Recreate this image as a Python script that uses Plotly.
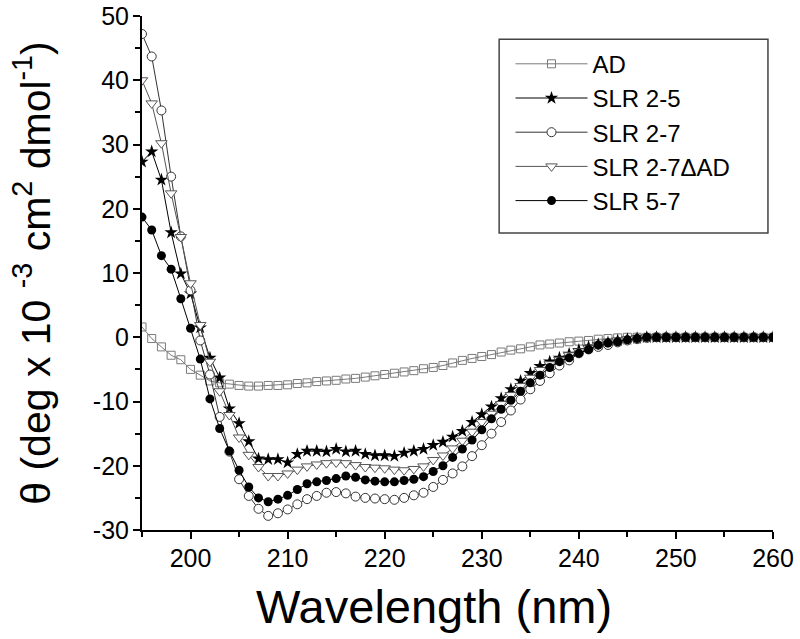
import plotly.graph_objects as go

# wavelength grid, 1 nm steps
wavelength = list(range(195, 261))

# mean residue ellipticity, deg x 10^-3 cm2 dmol-1
ad = [1.6, -0.2, -1.5, -2.8, -3.5, -5.0, -5.9, -6.8, -7.1, -7.3,
      -7.5, -7.6, -7.6, -7.5, -7.5, -7.4, -7.2, -7.1, -6.9, -6.8,
      -6.7, -6.5, -6.4, -6.2, -6.0, -5.8, -5.6, -5.4, -5.2, -4.9,
      -4.7, -4.4, -4.0, -3.6, -3.3, -3.0, -2.7, -2.3, -2.0, -1.8,
      -1.5, -1.2, -1.05, -0.9, -0.7, -0.6, -0.5, -0.3, -0.2, -0.1,
      0.0, 0.0, 0.0, 0.0, 0.0, 0.0, 0.0, 0.0, 0.0, 0.0,
      0.0, 0.0, 0.0, 0.0, 0.0, 0.0]

slr_2_5 = [27.3, 28.9, 24.5, 16.3, 9.9, 6.8, 1.5, -3.2, -6.3, -11.1,
           -13.4, -16.2, -18.9, -19.0, -19.0, -19.5, -18.2, -17.7, -17.7, -17.8,
           -17.4, -17.8, -17.7, -18.2, -18.4, -18.4, -18.5, -18.0, -17.7, -17.4,
           -16.8, -16.3, -15.5, -14.6, -13.2, -12.0, -10.8, -9.5, -8.1, -6.8,
           -5.6, -4.5, -3.8, -3.2, -2.6, -2.0, -1.5, -1.1, -0.8, -0.5,
           -0.3, -0.15, 0.0, 0.0, 0.0, 0.0, 0.0, 0.0, 0.0, 0.0,
           0.0, 0.0, 0.0, 0.0, 0.0, 0.0]

slr_2_7 = [47.2, 43.7, 35.3, 25.0, 15.7, 7.3, -0.5, -5.8, -12.4, -17.8,
           -22.1, -24.7, -26.7, -27.8, -27.4, -26.8, -26.0, -25.2, -24.7, -24.2,
           -24.1, -24.3, -24.8, -25.0, -25.1, -25.2, -25.3, -25.0, -24.6, -24.2,
           -23.3, -22.2, -21.2, -20.1, -18.5, -16.8, -15.0, -13.2, -11.4, -9.7,
           -8.1, -6.8, -5.6, -4.4, -3.6, -2.5, -1.9, -1.5, -1.2, -0.8,
           -0.5, -0.3, -0.1, 0.0, 0.0, 0.0, 0.0, 0.0, 0.0, 0.0,
           0.0, 0.0, 0.0, 0.0, 0.0, 0.0]

slr_2_7_dad = [40.0, 36.4, 30.2, 22.4, 15.6, 8.4, 1.9, -3.8, -8.4, -12.1,
               -15.6, -18.3, -20.2, -21.6, -21.6, -21.2, -20.6, -20.1, -19.8, -19.6,
               -19.5, -19.6, -19.9, -20.2, -20.3, -20.4, -20.6, -20.7, -20.5, -20.1,
               -19.1, -18.4, -17.3, -16.1, -14.7, -13.2, -11.9, -10.4, -9.0, -7.6,
               -6.3, -5.1, -4.2, -3.5, -2.8, -2.2, -1.7, -1.2, -0.8, -0.5,
               -0.3, -0.1, 0.0, 0.0, 0.0, 0.0, 0.0, 0.0, 0.0, 0.0,
               0.0, 0.0, 0.0, 0.0, 0.0, 0.0]

slr_5_7 = [18.7, 16.7, 12.7, 10.6, 6.0, 1.4, -3.4, -9.6, -14.2, -17.7,
           -20.7, -23.3, -25.0, -25.6, -25.2, -24.6, -23.7, -22.8, -22.5, -22.3,
           -22.0, -21.6, -21.8, -22.2, -22.4, -22.5, -22.5, -22.3, -22.1, -21.7,
           -20.9, -20.0, -18.7, -17.4, -16.0, -14.4, -12.7, -11.2, -9.8, -8.4,
           -7.1, -5.9, -4.7, -3.8, -3.2, -2.5, -1.9, -1.2, -0.9, -0.7,
           -0.4, -0.2, 0.0, 0.0, 0.0, 0.0, 0.0, 0.0, 0.0, 0.0,
           0.0, 0.0, 0.0, 0.0, 0.0, 0.0]

# tick labels (plain hyphen, like the original)
y_ticks = [-30, -20, -10, 0, 10, 20, 30, 40, 50]
y_ticktext = ["-30", "-20", "-10", "0", "10", "20", "30", "40", "50"]

FONT = "Liberation Sans, Arial, sans-serif"

series = [
    ("AD", ad, dict(symbol="square-open", color="#7a7a7a", size=8), "#7a7a7a"),
    ("SLR 2-5", slr_2_5, dict(symbol="star", color="black", size=10), "black"),
    ("SLR 2-7", slr_2_7, dict(symbol="circle", color="white", size=9,
                              line=dict(color="#333333", width=1)), "#333333"),
    ("SLR 2-7\u0394AD", slr_2_7_dad, dict(symbol="triangle-down", color="white", size=10,
                                         line=dict(color="#555555", width=1)), "#555555"),
    ("SLR 5-7", slr_5_7, dict(symbol="circle", color="black", size=9), "black"),
]

fig = go.Figure()
for name, vals, marker, lc in series:
    fig.add_trace(go.Scatter(
        x=wavelength, y=vals, mode="lines+markers", name=name,
        line=dict(color=lc, width=1), marker=marker,
    ))

# legend frame drawn as a shape so its padding matches the original
fig.add_shape(type="rect", xref="paper", yref="paper",
              x0=0.566, x1=0.992, y0=0.578, y1=0.955,
              line=dict(color="#444444", width=1.5), fillcolor="rgba(0,0,0,0)", layer="below")

# x title as annotation (slightly left of centre in the original)
fig.add_annotation(text="Wavelength (nm)", xref="paper", yref="paper",
                   x=0.463, y=-0.148, xanchor="center", yanchor="middle",
                   showarrow=False, font=dict(size=47))

fig.update_layout(
    width=800, height=639,
    margin=dict(l=142, r=27, t=16, b=109),
    plot_bgcolor="white", paper_bgcolor="white",
    font=dict(family=FONT, color="black", size=22),
    showlegend=True,
    legend=dict(
        x=0.584, y=0.95, xanchor="left", yanchor="top",
        borderwidth=0, bgcolor="rgba(0,0,0,0)",
        font=dict(size=24), itemwidth=72, tracegroupgap=0,
    ),
    xaxis=dict(
        range=[195, 260], dtick=10, tick0=200, automargin=False,
        showline=True, linecolor="black", linewidth=2, mirror=False,
        ticks="outside", ticklen=7, tickwidth=2, tickcolor="black",
        minor=dict(dtick=5, ticks="outside", ticklen=5, tickwidth=2, tickcolor="black"),
        showgrid=False, zeroline=False, ticklabelstandoff=-2,
        tickfont=dict(size=25), ticklabeloverflow="allow",
    ),
    yaxis=dict(
        range=[-30, 50], tickvals=y_ticks, ticktext=y_ticktext, automargin=False,
        showline=True, linecolor="black", linewidth=2, mirror=False,
        ticks="outside", ticklen=7, tickwidth=2, tickcolor="black",
        minor=dict(dtick=5, ticks="outside", ticklen=5, tickwidth=2, tickcolor="black"),
        showgrid=False, zeroline=False, ticklabelstandoff=-1,
        tickfont=dict(size=25), ticklabeloverflow="allow",
        title=dict(text="\u03b8 (deg x 10 <sup>-3</sup> cm<sup>2</sup> dmol<sup>-1</sup>)",
                   font=dict(size=41), standoff=30),
    ),
)

# drop the browser's default 8px body margin so the figure sits at the page corner
fig.write_html("out.html", config={"displayModeBar": False},
               post_script="document.body.style.margin='0';")
